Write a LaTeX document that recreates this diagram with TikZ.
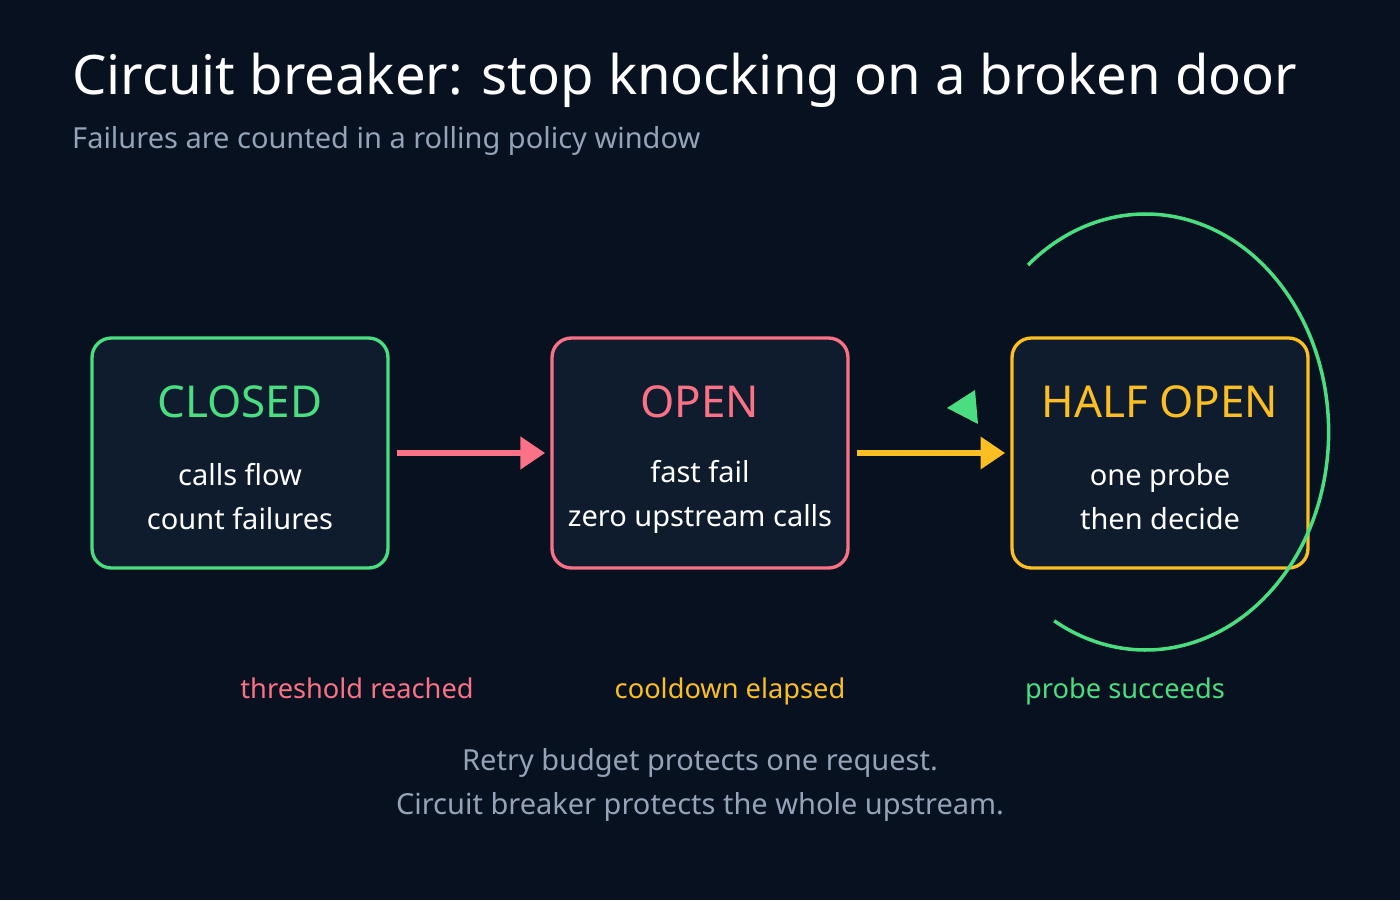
\documentclass[tikz,border=0pt]{standalone}
\usepackage{fontspec}
\setmainfont{Noto Sans}
\usetikzlibrary{arrows.meta,positioning}
\definecolor{bgdark}{HTML}{08111F}
\definecolor{boxfill}{HTML}{0F1C2E}
\definecolor{okgreen}{HTML}{4ADE80}
\definecolor{badred}{HTML}{FB7185}
\definecolor{waitamber}{HTML}{FBBF24}
\definecolor{mutedgrey}{HTML}{94A3B8}
\tikzset{
  state/.style={draw=#1, line width=1.9pt, fill=boxfill, rounded corners=11pt,
    minimum width=5.92cm, minimum height=4.6cm},
  statename/.style={text=#1, font=\fontsize{25}{30}\selectfont},
  statetext/.style={text=white, font=\fontsize{16.5}{25}\selectfont, align=center},
  edgelabel/.style={text=#1, anchor=base, font=\fontsize{15.5}{19}\selectfont},
  flow/.style={draw=#1, line width=3pt, -{Triangle[length=14pt,width=18pt]}}
}
\begin{document}
\begin{tikzpicture}[x=0.02cm,y=-0.02cm]

      % background
      \useasboundingbox (0,0) rectangle (1400,900);
      \fill[bgdark] (0,0) rectangle (1400,900);

      % heading
      \node[anchor=west, text=white, font=\fontsize{31}{37}\selectfont] (title) at (66,80)
      {Circuit breaker: stop knocking on a broken door};
      \node[anchor=west, text=mutedgrey, font=\fontsize{16.5}{20}\selectfont] (subtitle) at (66,141)
      {Failures are counted in a rolling policy window};

      % states
      \node[state=okgreen] (closed) at (240,453) {};
      \node[state=badred] (open) at (700,453) {};
      \node[state=waitamber] (half) at (1160,453) {};

      \node[statename=okgreen] (closedname) at (240,402) {CLOSED};
      \node[statetext] (closedtext) at (240,497) {calls flow\\count failures};
      \node[statename=badred] (openname) at (700,402) {OPEN};
      \node[statetext] (opentext) at (700,497) {fast fail\\zero upstream calls};
      \node[statename=waitamber] (halfname) at (1160,402) {HALF OPEN};
      \node[statetext] (halftext) at (1160,497) {one probe\\then decide};

      % transitions
      \draw[flow=badred] ([xshift=4pt]closed.east) -- ([xshift=-3pt]open.west);
      \draw[flow=waitamber] ([xshift=4pt]open.east) -- ([xshift=-3pt]half.west);

      % probe loop
      \coordinate (loopstart) at (1028,265);
      \draw[okgreen, line width=2pt] (loopstart) arc[start angle=-130, end angle=120,
        x radius=183, y radius=218];
      \fill[okgreen] (947,408) -- (975,390) -- (978,424) -- cycle;

      % labels
      \node[edgelabel=badred] (lblthreshold) at (357,698) {threshold reached};
      \node[edgelabel=waitamber] (lblcooldown) at (730,698) {cooldown elapsed};
      \node[edgelabel=okgreen] (lblprobe) at (1125,698) {probe succeeds};

      % footer
      \node[text=mutedgrey, align=center, font=\fontsize{16.5}{25}\selectfont] (footer) at (700,785)
      {Retry budget protects one request.\\Circuit breaker protects the whole upstream.};

\end{tikzpicture}
\end{document}
